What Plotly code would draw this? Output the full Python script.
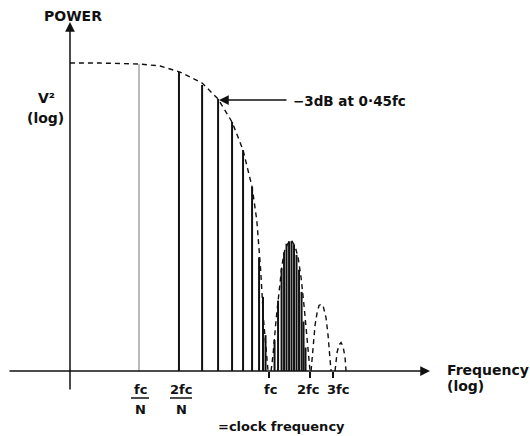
import plotly.graph_objects as go

# frequency in units of fc (log axis), power in dB relative to the DC level
FLOOR_DB = -25

# spectral lines of the main lobe (the first one is fc/N)
main_freq = [0.108, 0.214, 0.318, 0.418, 0.531, 0.641, 0.748, 0.843, 0.902, 0.942]
main_db = [-0.15, -0.81, -1.86, -2.99, -4.85, -7.12, -10.1, -15.8, -19.0, -22.1]

# spectral lines of the second lobe (fc .. 2fc)
side_freq = [1.099, 1.167, 1.239, 1.293, 1.349, 1.409, 1.470, 1.534, 1.601, 1.671, 1.745, 1.805, 1.867]
side_db = [-22.5, -19.3, -16.7, -15.4, -14.7, -14.5, -14.5, -14.8, -15.6, -16.8, -18.6, -21.0, -23.1]

# dashed envelope, one list per lobe
lobe1_freq = [0.0331, 0.0554, 0.110, 0.155, 0.218, 0.318, 0.418, 0.531, 0.641, 0.748, 0.811, 0.866, 0.911, 0.958, 0.983]
lobe1_db = [-0.08, -0.08, -0.16, -0.32, -0.81, -1.70, -2.99, -4.85, -7.12, -10.1, -12.8, -16.8, -20.9, -24.0, -25.0]
lobe2_freq = [1.035, 1.071, 1.127, 1.187, 1.249, 1.315, 1.385, 1.433, 1.483, 1.561, 1.643, 1.729, 1.820, 1.917, 1.984, 2.018]
lobe2_db = [-25.0, -23.7, -20.9, -18.4, -16.4, -15.1, -14.6, -14.4, -14.5, -14.9, -15.8, -17.4, -19.7, -22.5, -24.5, -25.0]
lobe3_freq = [2.053, 2.124, 2.198, 2.275, 2.353, 2.435, 2.520, 2.653, 2.746, 2.842, 2.891]
lobe3_db = [-25.0, -23.1, -21.3, -20.3, -19.7, -19.6, -19.7, -20.7, -22.1, -24.1, -25.0]
lobe4_freq = [3.095, 3.204, 3.314, 3.430, 3.550, 3.673, 3.736]
lobe4_db = [-25.0, -23.5, -22.9, -22.7, -23.0, -23.9, -25.0]

tick_vals = [1, 2, 3]
tick_text = ['fc', '2fc', '3fc']

W, H = 530, 436
AXIS_Y = 371  # pixel row of the frequency axis


def px(x):
    return x / W


def py(y):
    return (AXIS_Y - y) / AXIS_Y


def stems(freqs, dbs):
    xs, ys = [], []
    for f, d in zip(freqs, dbs):
        xs += [f, f, None]
        ys += [FLOOR_DB, d, None]
    return xs, ys


fig = go.Figure()

# envelope
env_x, env_y = [], []
for fl, dl in [(lobe1_freq, lobe1_db), (lobe2_freq, lobe2_db), (lobe3_freq, lobe3_db), (lobe4_freq, lobe4_db)]:
    env_x += fl + [None]
    env_y += dl + [None]
fig.add_trace(go.Scatter(x=env_x, y=env_y, mode='lines',
                         line=dict(color='#111', width=1.4, dash='5px,4px')))

# fc/N line is drawn thin and grey
x1, y1 = stems(main_freq[:1], main_db[:1])
fig.add_trace(go.Scatter(x=x1, y=y1, mode='lines', line=dict(color='#777', width=1)))
x2, y2 = stems(main_freq[1:] + side_freq, main_db[1:] + side_db)
fig.add_trace(go.Scatter(x=x2, y=y2, mode='lines', line=dict(color='#111', width=2)))

bold = dict(family='DejaVu Sans', size=13, color='#111', weight='bold')

annotations = [
    # axes arrows
    dict(x=px(430), y=py(AXIS_Y), ax=-422, ay=0),
    dict(x=px(70), y=py(22), ax=0, ay=369),
    # -3dB pointer
    dict(x=px(219), y=py(100), ax=69, ay=0),
]
for a in annotations:
    a.update(xref='paper', yref='paper', text='', showarrow=True,
             arrowhead=2, arrowsize=1.3, arrowwidth=1.5, arrowcolor='#111')

labels = [
    ('POWER', 73, 16, 'center', 14),
    ('V²', 46, 98, 'center', 14),
    ('(log)', 45, 118, 'center', 14),
    ('−3dB at 0·45fc', 291, 101, 'left', 13.5),
    ('fc', 140, 389, 'center', 13),
    ('N', 140, 409, 'center', 13),
    ('2fc', 181, 389, 'center', 13),
    ('N', 181, 409, 'center', 13),
    ('=clock frequency', 281, 426, 'center', 13),
    ('Frequency', 445, 370, 'left', 14),
    ('(log)', 445, 386, 'left', 14),
]
# labels of the fc, 2fc, 3fc ticks sit slightly right of the ticks in the reference
for text, x in zip(tick_text, [270, 308, 338]):
    labels.append((text, x, 390, 'center', 13))

for text, x, y, anchor, size in labels:
    annotations.append(dict(x=px(x), y=py(y), xref='paper', yref='paper', text=text,
                            showarrow=False, xanchor=anchor, yanchor='middle',
                            font=dict(bold, size=size)))

shapes = [
    dict(type='line', xref='paper', yref='paper', x0=px(131), x1=px(149), y0=py(398), y1=py(398),
         line=dict(color='#111', width=1.5)),
    dict(type='line', xref='paper', yref='paper', x0=px(170), x1=px(192), y0=py(398), y1=py(398),
         line=dict(color='#111', width=1.5)),
]

fig.update_layout(
    width=W, height=H,
    margin=dict(l=0, r=0, t=0, b=H - AXIS_Y),
    paper_bgcolor='white', plot_bgcolor='white',
    showlegend=False,
    font=bold,
    xaxis=dict(type='log', range=[-2, 1.94], showgrid=False, zeroline=False, showline=False,
               tickvals=tick_vals, ticks='outside', ticklen=6, showticklabels=False,
               tickwidth=1.5, tickcolor='#111'),
    yaxis=dict(range=[FLOOR_DB, 5.02], visible=False),
    annotations=annotations,
    shapes=shapes,
)

# page body margin would shift the figure by 8px
fig.write_html("out.html", config={'displayModeBar': False},
               post_script="document.body.style.margin='0';")
